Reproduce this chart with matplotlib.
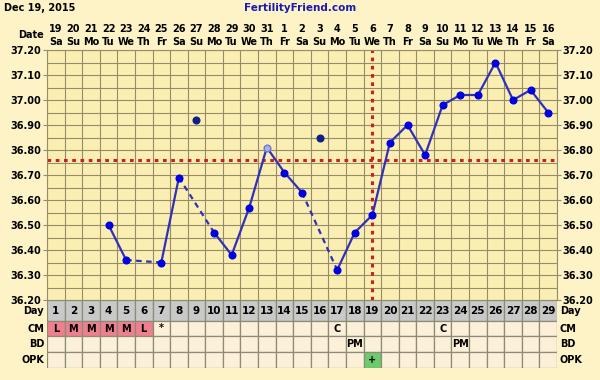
import numpy as np
import matplotlib.pyplot as plt
import matplotlib.ticker as mticker

# Datos del grafico
dias = np.arange(1, 30)
fechas = [19, 20, 21, 22, 23, 24, 25, 26, 27, 28, 29, 30, 31, 1, 2, 3, 4, 5, 6, 7, 8, 9, 10, 11, 12, 13, 14, 15, 16]
semana = ['Sa', 'Su', 'Mo', 'Tu', 'We', 'Th', 'Fr'] * 4 + ['Sa']
temps = [np.nan, np.nan, np.nan, 36.50, 36.36, np.nan, 36.35, 36.69, 36.92, 36.47,
         36.38, 36.57, 36.81, 36.71, 36.63, 36.85, 36.32, 36.47, 36.54, 36.83,
         36.90, 36.78, 36.98, 37.02, 37.02, 37.15, 37.00, 37.04, 36.95]
descartados = [9, 16]     # ----> temperaturas descartadas (sin linea)
dudosos = [13]            # ----> temperatura marcada (circulo claro)
coverline = 36.76
ovulacion = 19

cm = {1: 'L', 2: 'M', 3: 'M', 4: 'M', 5: 'M', 6: 'L', 7: '*', 17: 'C', 23: 'C'}
cm_rojo = [1, 2, 3, 4, 5, 6]
bd = {18: 'PM', 24: 'PM'}
opk = {19: '+'}

# Colores
fondo = '#fdf3c6'
fondo_graf = '#fbeeb3'
rejilla = '#958c68'
azul = '#0000e0'
linea_azul = '#3030b8'
rojo = '#cc2020'

W, H = 600, 380
fig = plt.figure(figsize=(6, 3.8), dpi=100, facecolor=fondo)
fuente = dict(fontsize=7, fontweight='bold', family='DejaVu Sans')

# Grafico de temperaturas
ax = fig.add_axes([47 / W, 1 - 300 / H, 510 / W, 250 / H])
ax.set_facecolor(fondo_graf)
ax.set_xlim(0.5, 29.5)
ax.set_ylim(36.20, 37.20)
ax.set_xticks(np.arange(0.5, 30, 1), minor=True)
ax.set_xticks([])
ax.set_yticks(np.arange(36.20, 37.21, 0.1))
ax.set_yticks(np.arange(36.20, 37.21, 0.05), minor=True)
ax.yaxis.set_major_formatter(mticker.FormatStrFormatter('%.2f'))
ax.grid(True, which='both', color=rejilla, lw=0.8)
ax.tick_params(axis='y', which='major', length=3, color=rejilla, labelright=True, right=True,
               labelsize=7, pad=1)
ax.tick_params(axis='both', which='minor', length=0)
for lab in ax.get_yticklabels():
    lab.set_fontweight('bold')
for s in ax.spines.values():
    s.set_color(rejilla)
ax.set_axisbelow(True)

# Lineas de coverline y ovulacion
ax.axhline(coverline, color=rojo, lw=2.2, ls=(0, (1.2, 1.5)), zorder=2)
ax.axvline(ovulacion, color=rojo, lw=2.2, ls=(0, (1.2, 1.5)), zorder=2)

# Segmentos de temperatura
validos = [(d, t) for d, t in zip(dias, temps) if not np.isnan(t) and d not in descartados]
for (d0, t0), (d1, t1) in zip(validos[:-1], validos[1:]):
    estilo = '-' if d1 - d0 == 1 else (0, (2.5, 2))
    ax.plot([d0, d1], [t0, t1], color=linea_azul, lw=1.6, ls=estilo, zorder=3)

for d, t in validos:
    if d in dudosos:
        ax.plot(d, t, 'o', ms=4.8, mfc='#a8b0f0', mec='#7078c8', mew=1, zorder=4)
    else:
        ax.plot(d, t, 'o', ms=4.8, color=azul, zorder=4)
for d in descartados:
    ax.plot(d, temps[d - 1], 'o', ms=4.8, color='#10208a', zorder=4)

# Fila de fechas
tr = ax.get_xaxis_transform()
for d, f, s in zip(dias, fechas, semana):
    ax.text(d, 1 + 21 / 250, str(f), transform=tr, ha='center', va='center', **fuente)
    ax.text(d, 1 + 8 / 250, s, transform=tr, ha='center', va='center', **fuente)
fig.text(44 / W, 1 - 35 / H, 'Date', ha='right', va='center', **fuente)
fig.text(4 / W, 1 - 8 / H, 'Dec 19, 2015', ha='left', va='center', **fuente)
fig.text(300 / W, 1 - 8 / H, 'FertilityFriend.com', ha='center', va='center',
         color='#1a1ab0', fontsize=7.5, fontweight='bold')

# Tabla inferior
tab = fig.add_axes([47 / W, 1 - 368 / H, 510 / W, 68 / H])
tab.set_xlim(0.5, 29.5)
tab.set_ylim(68, 0)
tab.axis('off')
filas = [(0, 21), (21, 36), (36, 52), (52, 68)]
nombres = ['Day', 'CM', 'BD', 'OPK']
for i, ((y0, y1), nombre) in enumerate(zip(filas, nombres)):
    for d in dias:
        color = '#fcf1d8'
        if i == 0:
            color = '#c9c9c9'
        elif i == 1 and d in cm_rojo:
            color = '#ef7f8e'
        elif i == 3 and d in opk:
            color = '#6ccb6c'
        tab.add_patch(plt.Rectangle((d - 0.5, y0), 1, y1 - y0, facecolor=color,
                                    edgecolor='#8e8a78', lw=0.9))
    yc = (y0 + y1) / 2
    fig.text(44 / W, 1 - (300 + yc) / H, nombre, ha='right', va='center', **fuente)
    fig.text(560 / W, 1 - (300 + yc) / H, nombre, ha='left', va='center', **fuente)

for d in dias:
    tab.text(d, 10.5, str(d), ha='center', va='center', fontsize=7.5, fontweight='bold')
for d, v in cm.items():
    tab.text(d, 28.5, v, ha='center', va='center', **fuente)
for d, v in bd.items():
    tab.text(d, 44, v, ha='center', va='center', **fuente)
for d, v in opk.items():
    tab.text(d, 60, v, ha='center', va='center', **fuente)

plt.savefig('out.png', dpi=100, facecolor=fondo)
